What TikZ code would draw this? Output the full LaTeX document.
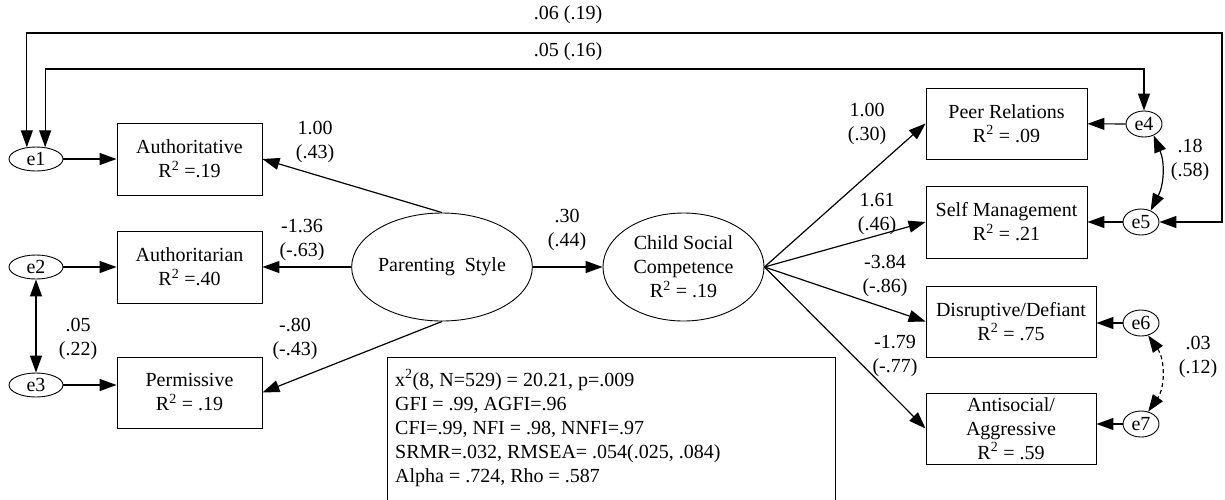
\documentclass[tikz,border=0pt]{standalone}
\usepackage{fontspec}
\setmainfont{Liberation Serif}
\usetikzlibrary{arrows.meta,shapes.geometric}

\begin{document}
\begin{tikzpicture}[x=1pt,y=-1pt,
  every node/.style={font=\fontsize{20}{24}\selectfont, align=center, inner sep=0pt},
  obs/.style={draw, line width=0.9pt, rectangle},
  latent/.style={draw, line width=0.9pt, ellipse},
  err/.style={draw, line width=0.9pt, ellipse, minimum width=54pt, minimum height=24pt},
  errs/.style={draw, line width=0.9pt, ellipse, minimum width=36pt, minimum height=26pt},
  path/.style={line width=1.2pt, -{Triangle[length=17pt,width=12pt]}},
  cov/.style={line width=1.2pt, {Triangle[length=17pt,width=12pt]}-{Triangle[length=17pt,width=12pt]}},
  lbl/.style={}
]
\useasboundingbox (0,0) rectangle (1225,499);

% measured indicators of parenting style
\node[obs, minimum width=145pt, minimum height=72pt] (auth)  at (189.5,159) {Authoritative\\R\textsuperscript{2} =.19};
\node[obs, minimum width=145pt, minimum height=72pt] (authn) at (189.5,267) {Authoritarian\\R\textsuperscript{2} =.40};
\node[obs, minimum width=145pt, minimum height=71pt] (perm)  at (189.5,392.5) {Permissive\\R\textsuperscript{2} = .19};

% error terms on the left
\node[err] (e1) at (36,159) {e1};
\node[err] (e2) at (36,267) {e2};
\node[err] (e3) at (36,385) {e3};

% latent constructs
\node[latent, minimum width=180pt, minimum height=108pt] (ps)  at (442,267) {Parenting~~Style};
\node[latent, minimum width=161pt, minimum height=108pt] (csc) at (683.5,267) {Child Social\\Competence\\R\textsuperscript{2} = .19};

% measured indicators of social competence
\node[obs, minimum width=161pt, minimum height=71pt] (peer) at (1006.5,123.5) {Peer Relations\\R\textsuperscript{2} = .09};
\node[obs, minimum width=161pt, minimum height=72pt] (sm)   at (1006.5,222) {Self Management\\R\textsuperscript{2} = .21};
\node[obs, minimum width=170pt, minimum height=71pt] (dd)   at (1011,321.5) {Disruptive/Defiant\\R\textsuperscript{2} = .75};
\node[obs, minimum width=170pt, minimum height=71pt] (aa)   at (1011,428.5) {Antisocial/\\Aggressive\\R\textsuperscript{2} = .59};

% error terms on the right
\node[errs] (e4) at (1144,124) {e4};
\node[errs] (e5) at (1141,222) {e5};
\node[errs] (e6) at (1141,323) {e6};
\node[errs] (e7) at (1141,424) {e7};

% fit statistics
\draw[line width=0.9pt] (387,510) -- (387,357) -- (835,357) -- (835,510);
\node[anchor=north west, align=left] (fit) at (395,369)
  {x\textsuperscript{2}(8, N=529) = 20.21, p=.009\\
   GFI = .99, AGFI=.96\\
   CFI=.99, NFI = .98, NNFI=.97\\
   SRMR=.032, RMSEA= .054(.025, .084)\\
   Alpha = .724, Rho = .587};

% structural and measurement paths
\draw[path] (e1) -- (auth);
\draw[path] (e2) -- (authn);
\draw[path] (e3) -- (e3 -| perm.west);
\draw[path] (ps.north) -- (auth.east);
\draw[path] (ps.west) -- (authn.east);
\draw[path] (ps.south) -- (perm.east);
\draw[path] (ps) -- (csc);
\draw[path] (csc.east) -- (peer.west);
\draw[path] (csc.east) -- (sm.west);
\draw[path] (csc.east) -- (dd.west);
\draw[path] (csc.east) -- (aa.west);
\draw[path] (e4) -- (peer);
\draw[path] (e5) -- (sm);
\draw[path] (e6) -- (e6 -| dd.east);
\draw[path] (e7) -- (e7 -| aa.east);

% error covariances
\draw[cov] (e2) -- (e3);
\draw[cov] (e4.-50) to[bend left=25] (e5.50);
\draw[cov, dash pattern=on 4pt off 3pt] (e6.-60) to[bend left=35] (e7.60);
\coordinate (topout) at (1222,33);
\coordinate (topin)  at (1144,69);
\draw[cov] (e1.128) |- (topout) |- (e5.east);
\draw[cov] (e1.52) |- (topin) -- (e4.north);

% coefficient labels
\node[lbl] (l1)  at (315,142) {1.00\\(.43)};
\node[lbl] (l2)  at (302,240) {-1.36\\(-.63)};
\node[lbl] (l3)  at (295,339) {-.80\\(-.43)};
\node[lbl] (l4)  at (78,339)  {.05\\(.22)};
\node[lbl] (l5)  at (567,230) {.30\\(.44)};
\node[lbl] (l6)  at (867,124) {1.00\\(.30)};
\node[lbl] (l7)  at (877,214) {1.61\\(.46)};
\node[lbl] (l8)  at (885,276) {-3.84\\(-.86)};
\node[lbl] (l9)  at (895,356) {-1.79\\(-.77)};
\node[lbl] (l10) at (1190,160) {.18\\(.58)};
\node[lbl] (l11) at (1198,357) {.03\\(.12)};
\node[lbl] (l12) at (568,15)  {.06 (.19)};
\node[lbl] (l13) at (568,52)  {.05 (.16)};
\end{tikzpicture}
\end{document}
